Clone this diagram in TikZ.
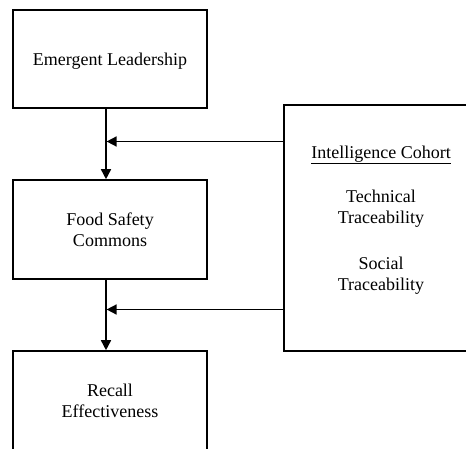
\documentclass[tikz,border=0pt]{standalone}
\usepackage{fontspec}
\setmainfont{Liberation Serif}
\usetikzlibrary{arrows.meta}
\begin{document}
\begin{tikzpicture}[x=1pt,y=-1pt,
  box/.style={draw, line width=1.6pt, align=center, inner sep=0pt,
    font=\fontsize{18}{21.5}\selectfont, minimum width=194pt, text depth=0pt},
  txt/.style={align=center, inner sep=0pt, font=\fontsize{18}{21}\selectfont},
  conn/.style={line width=1.6pt, -{Triangle[length=10pt,width=10pt]}}]
\useasboundingbox (0,0) rectangle (466,449);
\clip (0,0) rectangle (466,449);
\fill[white] (0,0) rectangle (466,449);
\node[box, minimum height=98pt] (el) at (110,59) {Emergent Leadership};
\node[box, minimum height=99pt] (fsc) at (110,229.5) {Food Safety\\Commons};
\node[box, minimum height=100pt] (re) at (110,401) {Recall\\Effectiveness};
\node[box, minimum height=246pt] (ic) at (381,228) {};
\node[txt] (ictext) at (381,220) {\underline{Intelligence Cohort}\\[23pt]Technical\\Traceability\\[25pt]Social\\Traceability};
\coordinate (j1) at (106,141.5);
\coordinate (j2) at (106,309.5);
\draw[conn] (el.south -| j1) -- (fsc.north -| j1);
\draw[conn] (fsc.south -| j2) -- (re.north -| j2);
\draw[conn, shorten >=0.6pt] (ic.west |- j1) -- (j1);
\draw[conn, shorten >=0.6pt] (ic.west |- j2) -- (j2);
\end{tikzpicture}
\end{document}
